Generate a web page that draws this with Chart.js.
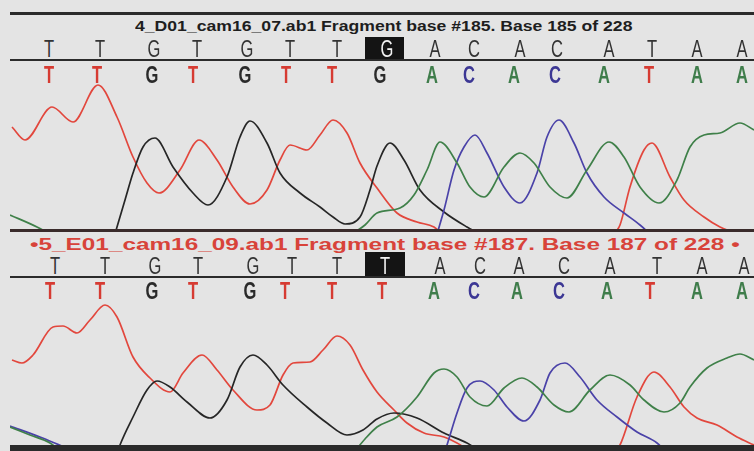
<!DOCTYPE html>
<html>
<head>
<meta charset="utf-8">
<script src="https://cdn.jsdelivr.net/npm/chart.js@4.4.1/dist/chart.umd.min.js"></script>
<style>
  body { margin: 0; background: #e4e4e4; }
  #wrap { position: relative; width: 754px; height: 451px; overflow: hidden; background: #e4e4e4;
          font-family: "Liberation Sans", Arial, sans-serif; }
  canvas { position: absolute; left: 10px; }
  .rule { position: absolute; left: 10px; width: 744px; background: #2b2b2b; z-index: 3; }
  .title { position: absolute; white-space: nowrap; font-weight: bold; line-height: 1; transform-origin: 0 0; }
  .base { position: absolute; width: 30px; margin-left: -15px; text-align: center; line-height: 1; font-size: 23px; z-index: 4; }
  .call { color: #333; transform: scaleX(0.72); }
  .peak { font-weight: bold; transform: scaleX(0.72); }
  .sel { position: absolute; background: #141414; z-index: 2; }
</style>
</head>
<body>
<div id="wrap">
  <div class="rule" style="top:12px;height:3px"></div>
  <div class="rule" style="top:59px;height:2px"></div>
  <div class="rule" style="top:229px;height:3px;background:#3a2b2b"></div>
  <div class="rule" style="top:276px;height:2px"></div>
  <div class="rule" style="top:445px;height:6px"></div>
  <div class="sel" style="left:365px;top:37px;width:39px;height:22px"></div>
  <div class="sel" style="left:365px;top:252px;width:40px;height:24px"></div>
  <canvas id="traceTop" width="744" height="168" style="top:62px"></canvas>
  <canvas id="traceBottom" width="744" height="168" style="top:279px"></canvas>
</div>
<script>
// ---------- sample names ----------
const titleTop = "4_D01_cam16_07.ab1 Fragment base #185. Base 185 of 228";
const titleBottom = "\u20225_E01_cam16_09.ab1 Fragment base #187. Base 187 of 228 \u2022";

// ---------- base calls (scan position of each call) ----------
const basesTop = ["T","T","G","T","G","T","T","G","A","C","A","C","A","T","A","A"];
const callPosTop = [49,100,154,197,247,290,337,387,435,474,520,557,609,652,697,742];
const peakPosTop = [49,97,152,193,245,286,332,380,432,469,514,555,604,649,697,742];

const basesBottom = ["T","T","G","T","G","T","T","T","A","C","A","C","A","T","A","A"];
const callPosBottom = [55,105,155,198,253,292,337,385,440,480,519,564,610,657,702,744];
const peakPosBottom = [50,100,152,193,250,285,332,382,434,474,517,559,607,650,697,742];

const selectedBase = 7;

// ---------- traces: [scan, signal], null = below baseline ----------
const tTop = [[12,103],[25,90],[52,123],[73,108],[98,145],[117,113],[133,73],[147,47],[159,37],[180,60],[199,90],
  [217,70],[233,43],[250,26],[267,40],[280,70],[290,85],[307,80],[320,95],[333,110],[347,97],[360,67],[377,42],
  [397,17],[417,8],[434,3],[442,-4],[500,null],[614,-4],[620,5],[630,43],[644,80],[652,87],[670,53],[684,30],
  [704,13],[720,3],[735,-3]];
const gTop = [[115,-4],[117,3],[125,30],[133,57],[143,83],[155,92],[173,63],[193,37],[208,25],[227,53],[240,93],
  [250,109],[267,87],[280,57],[300,37],[320,23],[333,13],[345,6],[360,13],[370,40],[377,64],[390,87],[404,70],
  [420,40],[444,18],[467,3],[480,-4]];
const aTop = [[10,15],[37,3],[50,-4],[200,null],[352,-4],[365,5],[377,17],[400,22],[414,35],[427,60],[440,88],
  [457,67],[470,43],[484,33],[504,63],[520,77],[534,67],[550,43],[567,32],[587,60],[609,88],[624,73],[640,43],
  [659,27],[677,50],[690,83],[704,95],[720,97],[740,107],[754,100]];
const cTop = [[437,-4],[444,20],[454,60],[464,83],[475,95],[487,77],[504,43],[520,27],[537,57],[547,93],[559,110],
  [574,87],[587,57],[604,33],[624,17],[640,5],[650,-4]];

const tBottom = [[12,87],[22,84],[33,92],[53,120],[63,121],[77,114],[90,127],[105,142],[117,130],[133,90],[150,69],
  [170,55],[183,74],[202,92],[217,77],[233,57],[257,37],[270,42],[283,72],[293,84],[310,85],[323,97],[337,111],
  [350,102],[363,77],[377,55],[394,37],[407,24],[424,14],[444,10],[457,4],[470,-4],[540,null],[615,-4],[620,2],
  [637,50],[654,75],[670,60],[684,40],[697,29],[717,22],[737,10],[754,2]];
const gBottom = [[118,-4],[120,2],[133,30],[147,57],[157,66],[170,60],[187,45],[210,29],[227,47],[240,80],[253,92],
  [267,82],[283,62],[307,40],[327,24],[347,12],[363,17],[377,28],[394,34],[417,29],[444,14],[467,4],[480,-4]];
const aBottom = [[10,20],[30,12],[50,4],[60,-4],[200,null],[355,-4],[365,8],[377,20],[397,30],[417,50],[434,74],
  [444,78],[457,70],[470,50],[487,41],[504,59],[522,69],[537,60],[554,42],[569,35],[590,57],[610,72],[630,62],
  [644,47],[664,35],[680,44],[690,60],[707,79],[727,89],[740,93],[754,87]];
const cBottom = [[10,21],[40,10],[67,-1],[75,-4],[300,null],[445,-4],[447,2],[457,34],[467,59],[480,66],[494,57],
  [507,40],[524,26],[540,47],[550,74],[565,84],[580,70],[597,47],[617,30],[637,15],[657,4],[665,-4]];

// ---------- colours ----------
const traceColors = { T: "#e2473d", G: "#262626", A: "#3f8049", C: "#4a42a8" };
const letterColors = { T: "#d63b32", G: "#2a2a2a", A: "#3f7d4b", C: "#3c3794" };

const wrap = document.getElementById("wrap");

function toPoints(arr) {
  return arr.map(p => ({ x: p[0], y: p[1] }));
}

function makeTrace(id, series) {
  const ds = Object.keys(series).map(b => ({
    data: toPoints(series[b]),
    borderColor: traceColors[b],
    borderWidth: 1.7,
    pointRadius: 0,
    cubicInterpolationMode: "monotone",
    spanGaps: false
  }));
  return new Chart(document.getElementById(id), {
    type: "line",
    data: { datasets: ds },
    options: {
      responsive: false,
      animation: false,
      layout: { padding: 0 },
      plugins: { legend: { display: false }, tooltip: { enabled: false } },
      scales: {
        x: { type: "linear", min: 10, max: 754, display: false },
        y: { min: 0, max: 168, display: false }
      }
    }
  });
}

const chartTop = makeTrace("traceTop", { A: aTop, C: cTop, G: gTop, T: tTop });
const chartBottom = makeTrace("traceBottom", { A: aBottom, C: cBottom, G: gBottom, T: tBottom });

function addTitle(text, top, size, color, left, right) {
  const el = document.createElement("div");
  el.className = "title";
  el.textContent = text;
  el.style.fontSize = size + "px";
  el.style.color = color;
  el.style.top = top + "px";
  el.style.left = left + "px";
  wrap.appendChild(el);
  const k = (right - left) / el.offsetWidth;
  el.style.transform = "scaleX(" + k + ")";
}

function addBases(chart, bases, callPos, peakPos, callTop, peakTop) {
  const xs = chart.scales.x;
  const off = chart.canvas.offsetLeft;
  bases.forEach((b, i) => {
    const call = document.createElement("div");
    call.className = "base call";
    call.textContent = b;
    call.style.left = (xs.getPixelForValue(callPos[i]) + off) + "px";
    call.style.top = callTop + "px";
    if (i === selectedBase) call.style.color = "#f2f2f2";
    wrap.appendChild(call);

    const pk = document.createElement("div");
    pk.className = "base peak";
    pk.textContent = b;
    pk.style.color = letterColors[b];
    pk.style.left = (xs.getPixelForValue(peakPos[i]) + off) + "px";
    pk.style.top = peakTop + "px";
    wrap.appendChild(pk);
  });
}

addTitle(titleTop, 19, 14, "#1e1e1e", 135, 632);
addTitle(titleBottom, 236, 17, "#d8433a", 30, 740);
addBases(chartTop, basesTop, callPosTop, peakPosTop, 38, 64);
addBases(chartBottom, basesBottom, callPosBottom, peakPosBottom, 255, 280);
</script>
</body>
</html>
